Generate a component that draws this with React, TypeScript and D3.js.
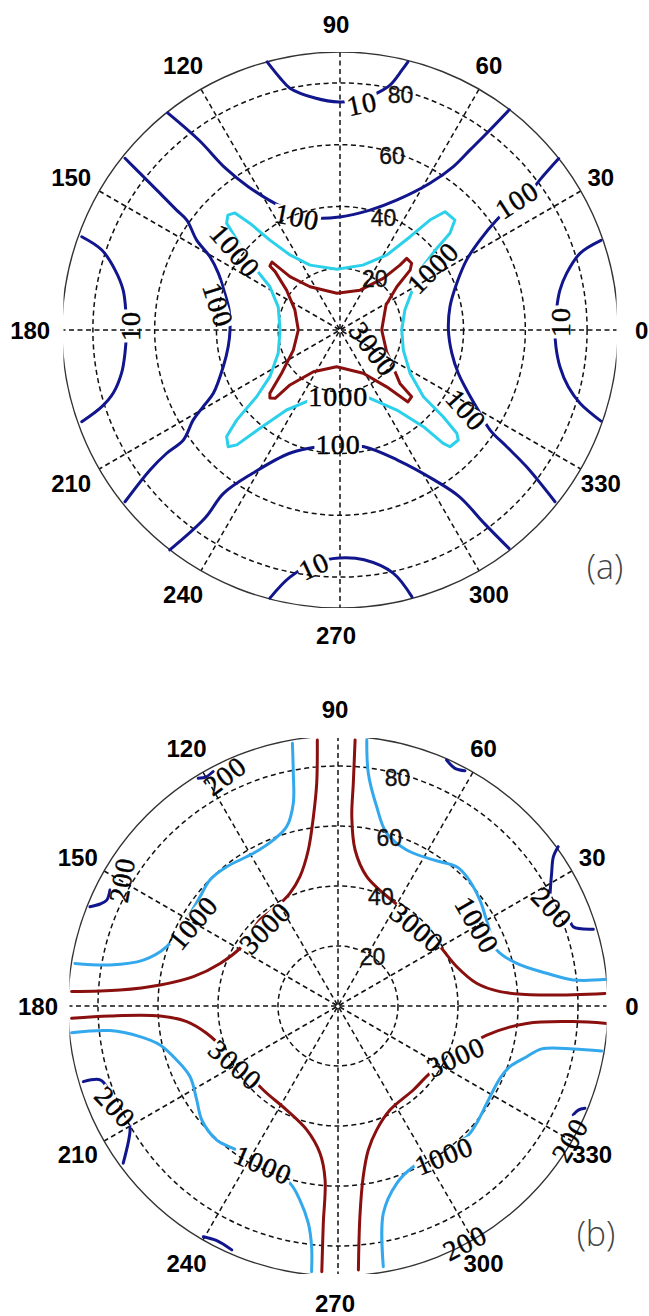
import React from 'react';
import * as d3 from 'd3';

type Pt = [number, number];
type Label = [string, number, number, number]; // text, x, y (data units), rotation (deg)

// Polar frame: angle ticks (deg), spokes and radial rings (radial unit: deg, 0..90)
const ANGLE_TICKS = [0, 30, 60, 90, 120, 150, 180, 210, 240, 270, 300, 330];
const SPOKE_ANGLES = [0, 30, 60, 90, 120, 150];
const RADIAL_TICKS = [20, 40, 60, 80];
const R_MAX = 90;

// ---------- panel (a): contour lines, points as [r·cosθ, r·sinθ] ----------
const A_LEVEL_10: Pt[][] = [
  [[-23.6, 86.8], [-19.4, 81.6], [-16.2, 78.3], [-8.1, 75.1], [-0.3, 73.8], [6.5, 74.5], [12.0, 76.7], [16.2, 79.3], [20.1, 84.2], [22.0, 86.8]],
  [[-22.7, -86.8], [-16.2, -80.0], [-8.1, -75.4], [-0.3, -73.8], [7.8, -74.4], [17.2, -78.7], [23.3, -86.4]],
  [[-83.6, 30.2], [-77.1, 25.9], [-72.8, 19.4], [-70.2, 12.9], [-69.3, 5.5], [-69.1, 0], [-69.6, -7.4], [-70.7, -13.9], [-73.4, -20.4], [-77.1, -24.8], [-83.6, -29.7]],
  [[84.5, 29.0], [77.7, 24.8], [73.4, 18.4], [71.2, 12.9], [70.2, 7.5], [69.6, 0], [69.9, -5.4], [71.2, -11.9], [73.9, -18.4], [77.7, -23.7], [84.5, -29.5]],
];

const A_LEVEL_100: Pt[][] = [
  [[-55.8, 70.3], [-45.7, 61.5], [-37.0, 52.3], [-29.7, 46.4], [-18.9, 39.9], [-8.2, 36.3], [0, 36.6], [9.7, 38.8], [18.5, 42.1], [29.1, 47.5], [36.7, 52.9], [42.1, 58.3], [47.5, 63.7], [54.8, 71.3]],
  [[-69.6, 55.6], [-64.7, 50.7], [-59.3, 45.3], [-52.9, 38.8], [-49.6, 35.6], [-46.4, 29.1], [-42.1, 23.7], [-39.4, 18.4], [-37.6, 12.9], [-35.9, 6.5], [-35.6, 0], [-36.2, -5.4], [-37.8, -11.9], [-41.0, -20.5], [-44.3, -24.8], [-47.5, -29.1], [-50.7, -35.6], [-56.1, -39.9], [-61.5, -45.3], [-69.6, -55.6]],
  [[-55.1, -71.2], [-43.7, -60.9], [-37.7, -52.9], [-28.3, -46.4], [-16.3, -39.9], [-6.9, -37.8], [0, -37.6], [7.8, -37.8], [18.6, -42.1], [30.6, -48.6], [38.7, -54.0], [46.7, -62.6], [54.7, -70.7]],
  [[70.8, 55.5], [64.7, 48.6], [60.4, 43.2], [55.0, 39.8], [50.7, 35.6], [45.3, 29.1], [41.0, 22.7], [37.8, 15.1], [35.6, 7.5], [35.1, 0], [36.2, -7.5], [38.3, -14.0], [41.0, -19.4], [44.7, -25.9], [48.6, -32.4], [54.0, -37.8], [60.4, -44.3], [69.6, -55.6]],
];

const A_LEVEL_1000: Pt[][] = [
  [[-34.0, 37.9], [-29.1, 34.5], [-22.7, 29.1], [-16.2, 24.3], [-9.7, 21.0], [-1.0, 19.7], [7.4, 21.0], [15.2, 24.3], [22.7, 30.2], [29.1, 35.6], [34.0, 38.3], [37.2, 35.6], [35.6, 31.3], [31.3, 26.4], [25.9, 19.4], [21.0, 6.5], [20.0, 0], [20.5, -6.5], [22.7, -14.0], [27.0, -21.6], [33.4, -28.1], [37.8, -33.4], [38.3, -35.6], [35.6, -37.8], [33.4, -36.7], [27.0, -31.3], [18.4, -25.9], [9.7, -22.1], [0, -20.7], [-9.7, -22.7], [-17.3, -25.9], [-25.9, -31.8], [-33.4, -37.2], [-36.2, -37.8], [-36.7, -34.5], [-33.4, -29.1], [-27.0, -21.6], [-22.7, -15.1], [-20.0, -7.5], [-19.4, 0], [-20.0, 7.5], [-22.7, 14.0], [-27.0, 19.4], [-32.4, 27.5], [-36.7, 34.6], [-36.3, 37.2]],
];

const A_LEVEL_3000: Pt[][] = [
  [[-22.0, 22.0], [-16.2, 17.3], [-9.7, 14.0], [-1.0, 11.9], [6.5, 12.9], [14.0, 16.7], [19.4, 21.0], [21.6, 23.2], [23.2, 21.6], [22.7, 19.4], [18.4, 14.0], [14.9, 8.1], [13.5, 0], [15.1, -7.1], [19.4, -17.3], [23.2, -21.6], [22.0, -23.3], [15.1, -18.4], [7.5, -14.0], [-1.1, -11.9], [-8.6, -13.5], [-16.2, -17.8], [-21.0, -22.1], [-22.7, -22.0], [-22.7, -20.5], [-18.9, -14.0], [-15.1, -6.5], [-13.5, 0], [-14.6, 6.5], [-17.3, 12.9], [-21.0, 18.9], [-22.7, 20.7]],
];

const A_LABELS: Label[] = [
  ['10', 7.1, 73.2, -12], ['10', -8.4, -76.4, -25], ['10', -67.7, 1.3, -90], ['10', 71.5, 2.6, -90],
  ['100', -13.9, 36.6, 11], ['100', -39.5, 8.1, 72], ['100', 57.3, 42.1, -33], ['100', 40.8, -25.9, 48], ['100', -0.6, -37.2, 0],
  ['1000', -34.0, 25.6, 49], ['1000', 30.1, 20.1, -45], ['1000', -0.6, -21.4, 0],
  ['3000', 10.7, -6.2, 53],
];

// ---------- panel (b) ----------
const B_LEVEL_200: Pt[][] = [
  [[36.2, 82.0], [39.0, 79.2], [42.3, 78.4]],
  [[-46.6, 75.9], [-43.8, 76.4], [-41.6, 78.1]],
  [[-82.7, 33.1], [-79.3, 34.0], [-77.1, 35.3], [-76.0, 38.7]],
  [[73.4, 53.1], [71.8, 49.8], [71.2, 44.2], [70.7, 37.6]],
  [[77.3, 29.2], [78.4, 26.4], [85.1, 25.6]],
  [[-84.9, -25.2], [-79.3, -24.6], [-77.1, -26.9]],
  [[-69.9, -37.4], [-69.3, -41.3], [-71.6, -52.4]],
  [[-44.9, -76.9], [-40.4, -78.2], [-35.4, -81.3]],
  [[78.4, -36.3], [80.1, -34.7], [82.3, -34.1]],
];

const B_LEVEL_1000: Pt[][] = [
  [[-15.2, 87.6], [-14.9, 77.6], [-14.9, 67.6], [-17.1, 59.8], [-21.6, 55.3], [-28.2, 50.9], [-37.1, 46.4], [-42.7, 42.0], [-46.0, 36.4], [-51.0, 28.0], [-57.1, 19.8], [-64.9, 15.3], [-76.0, 13.7], [-87.7, 14.2]],
  [[9.6, 88.7], [10.1, 77.6], [12.9, 66.4], [16.2, 57.6], [22.9, 52.0], [31.8, 48.7], [39.6, 46.4], [42.9, 43.1], [47.3, 35.3], [50.0, 27.0], [52.9, 18.7], [59.6, 14.2], [69.6, 10.9], [78.4, 8.7], [89.6, 8.9]],
  [[-88.8, -8.9], [-76.0, -8.2], [-66.0, -10.2], [-59.3, -13.0], [-53.8, -18.0], [-49.3, -23.6], [-47.1, -31.3], [-45.4, -38.0], [-40.4, -44.7], [-33.8, -48.0], [-25.0, -53.3], [-16.0, -59.1], [-12.7, -64.7], [-9.9, -72.4], [-8.8, -80.2], [-8.8, -88.6]],
  [[87.9, -15.0], [78.4, -14.3], [67.9, -14.3], [62.9, -16.9], [57.3, -20.2], [54.0, -24.1], [49.6, -32.4], [46.2, -39.1], [42.9, -43.6], [34.0, -48.7], [25.1, -53.6], [19.6, -59.1], [15.1, -69.1], [15.1, -86.9]],
];

const B_LEVEL_3000: Pt[][] = [
  [[-6.9, 88.7], [-7.1, 74.2], [-8.2, 63.1], [-9.9, 52.0], [-12.7, 43.1], [-16.0, 37.6], [-20.4, 33.1], [-26.0, 28.7], [-32.1, 19.8], [-39.3, 14.2], [-48.2, 9.8], [-59.3, 7.0], [-72.7, 5.3], [-88.8, 4.8]],
  [[5.7, 88.7], [5.1, 74.2], [4.6, 63.1], [5.7, 52.0], [9.6, 43.1], [15.1, 37.6], [21.8, 32.0], [28.0, 26.0], [34.0, 19.8], [39.6, 13.1], [46.2, 7.6], [54.0, 4.8], [67.3, 3.7], [89.0, 4.2]],
  [[-88.8, -4.1], [-76.0, -3.3], [-59.3, -3.3], [-50.4, -5.2], [-43.8, -9.1], [-34.3, -18.0], [-24.9, -28.0], [-17.1, -34.7], [-10.4, -41.3], [-6.0, -49.1], [-4.3, -58.0], [-4.9, -72.4], [-5.4, -88.6]],
  [[89.6, -5.8], [78.4, -5.2], [62.9, -5.8], [49.6, -9.7], [39.3, -16.0], [30.7, -22.4], [25.1, -28.0], [17.3, -34.7], [12.9, -41.3], [10.1, -48.0], [8.4, -56.9], [7.3, -70.2], [6.8, -88.0]],
];

const B_LABELS: Label[] = [
  ['200', -37.7, 76.7, -37], ['200', -72.0, 42.0, -80], ['1000', -48.3, 27.7, -50], ['3000', -24.3, 26.0, -45],
  ['3000', 26.3, 26.0, 40], ['1000', 46.3, 27.0, 60], ['200', 71.3, 32.7, 47],
  ['3000', -34.3, -19.7, 41], ['3000', 39.3, -17.0, -24], ['1000', -25.0, -53.0, 23], ['1000', 35.3, -50.0, -22],
  ['200', -74.3, -33.7, 47], ['200', 77.3, -44.7, -60], ['200', 42.3, -79.0, -27],
];

// ---------- styling ----------
const NAVY = '#12168c';
const CYAN = '#2bd0ea';
const SKY = '#33a8ec';
const MAROON = '#8a1010';

type Series = { lines: Pt[][]; closed: boolean; color: string };
type Panel = {
  id: string; cx: number; cy: number; R: number; insetX: number; insetY: number; labelShift: number;
  series: Series[]; labels: Label[]; tag: string; tagX: number; tagY: number;
};

const PANELS: Panel[] = [
  {
    id: 'a', cx: 340, cy: 330, R: 278, insetX: 1.5, insetY: 0, labelShift: -4,
    series: [
      { lines: A_LEVEL_10, closed: false, color: NAVY },
      { lines: A_LEVEL_100, closed: false, color: NAVY },
      { lines: A_LEVEL_1000, closed: true, color: CYAN },
      { lines: A_LEVEL_3000, closed: true, color: MAROON },
    ],
    labels: A_LABELS, tag: '(a)', tagX: 605, tagY: 567,
  },
  {
    id: 'b', cx: 338, cy: 1006, R: 270, insetX: 1.5, insetY: 2, labelShift: -3,
    series: [
      { lines: B_LEVEL_200, closed: false, color: NAVY },
      { lines: B_LEVEL_1000, closed: false, color: SKY },
      { lines: B_LEVEL_3000, closed: false, color: MAROON },
    ],
    labels: B_LABELS, tag: '(b)', tagX: 596, tagY: 1234,
  },
];

const W = 649;
const H = 1316;
const SANS = '"Liberation Sans", Arial, Helvetica, sans-serif';
const SERIF = '"Liberation Serif", "Times New Roman", Times, serif';
const deg = (a: number) => (a * Math.PI) / 180;

function PolarPanel({ p }: { p: Panel }) {
  const x = d3.scaleLinear().domain([-R_MAX, R_MAX]).range([p.cx - p.R, p.cx + p.R]);
  const y = d3.scaleLinear().domain([-R_MAX, R_MAX]).range([p.cy + p.R, p.cy - p.R]);
  const rad = d3.scaleLinear().domain([0, R_MAX]).range([0, p.R]);
  const openLine = d3.line<Pt>().x(d => x(d[0])).y(d => y(d[1])).curve(d3.curveCatmullRom.alpha(0.5));
  const closedLine = d3.line<Pt>().x(d => x(d[0])).y(d => y(d[1])).curve(d3.curveLinearClosed);
  const clipId = `frame-${p.id}`;
  const maskId = `gaps-${p.id}`;
  const gapW = (t: string) => t.length * 14.5 + 4;
  const gridStyle = { stroke: '#111', strokeWidth: 1.5, strokeDasharray: '5 3.5', fill: 'none' };

  return (
    <g>
      <defs>
        <clipPath id={clipId}>
          <rect x={p.cx - p.R + p.insetX} y={p.cy - p.R + p.insetY} width={2 * (p.R - p.insetX)} height={2 * (p.R - p.insetY)} />
        </clipPath>
        <mask id={maskId} maskUnits="userSpaceOnUse" x={0} y={0} width={W} height={H}>
          <rect x={0} y={0} width={W} height={H} fill="white" />
          {p.labels.map(([t, lx, ly, rot], i) => (
            <rect key={i} x={-gapW(t) / 2} y={-9} width={gapW(t)} height={18} fill="black"
              transform={`translate(${x(lx)},${y(ly)}) rotate(${rot})`} />
          ))}
        </mask>
      </defs>

      <g clipPath={`url(#${clipId})`}>
        {RADIAL_TICKS.map(t => (
          <circle key={t} cx={x(0)} cy={y(0)} r={rad(t)} style={gridStyle} />
        ))}
        {SPOKE_ANGLES.map(a => (
          <line key={a}
            x1={x(R_MAX * Math.cos(deg(a)))} y1={y(R_MAX * Math.sin(deg(a)))}
            x2={x(-R_MAX * Math.cos(deg(a)))} y2={y(-R_MAX * Math.sin(deg(a)))}
            style={gridStyle} />
        ))}
        <circle cx={x(0)} cy={y(0)} r={rad(R_MAX)} fill="none" stroke="#333" strokeWidth={1.4} />

        <g mask={`url(#${maskId})`} fill="none" strokeWidth={3} strokeLinejoin="round" strokeLinecap="round">
          {p.series.map((s, si) =>
            s.lines.map((ln, li) => (
              <path key={`${si}-${li}`} d={(s.closed ? closedLine : openLine)(ln) || ''} stroke={s.color} />
            ))
          )}
        </g>
      </g>

      {RADIAL_TICKS.map(t => (
        <text key={t}
          x={x((t + 1) * Math.cos(deg(82))) + 13}
          y={y((t + 1) * Math.sin(deg(82))) + 21}
          fontFamily={SANS} fontSize={23} fill="#111" stroke="#111" strokeWidth={0.35}>{t}</text>
      ))}

      {ANGLE_TICKS.map(a => (
        <text key={a}
          x={x(1.1 * R_MAX * Math.cos(deg(a))) + p.labelShift}
          y={y(1.1 * R_MAX * Math.sin(deg(a)))}
          dy="0.36em" textAnchor="middle"
          fontFamily={SANS} fontWeight="bold" fontSize={24} fill="#000">{a}</text>
      ))}

      {p.labels.map(([t, lx, ly, rot], i) => (
        <text key={i} transform={`translate(${x(lx)},${y(ly)}) rotate(${rot})`}
          textAnchor="middle" dy="0.34em"
          fontFamily={SERIF} fontSize={28} letterSpacing={1} fill="#000" stroke="#000" strokeWidth={0.45}>{t}</text>
      ))}

      <text x={p.tagX} y={p.tagY} dy="0.35em" textAnchor="middle"
        fontFamily='"Open Sans", "Noto Sans", sans-serif' fontWeight={300} fontSize={34} fill="#444">{p.tag}</text>
    </g>
  );
}

export default function App() {
  return (
    <svg width={W} height={H} viewBox={`0 0 ${W} ${H}`}
      style={{ position: 'absolute', left: 0, top: 0, background: '#fff', display: 'block' }}>
      <rect x={0} y={0} width={W} height={H} fill="#fff" />
      {PANELS.map(p => <PolarPanel key={p.id} p={p} />)}
    </svg>
  );
}
